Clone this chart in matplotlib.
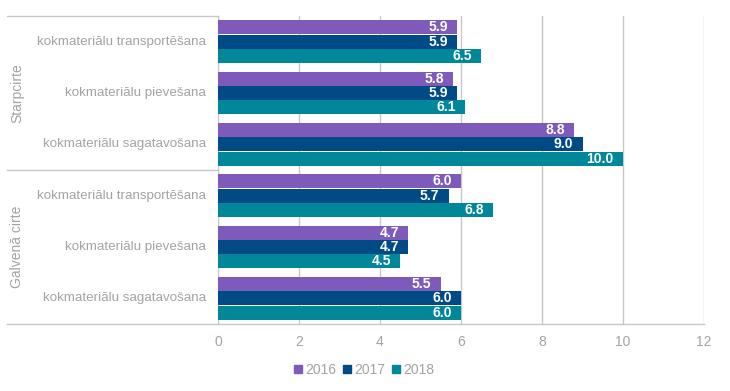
import matplotlib.pyplot as plt
import matplotlib.transforms as mtransforms
import numpy as np

plt.rcParams['font.family'] = ['Liberation Sans', 'DejaVu Sans']

groups = ["Starpcirte", "Galvenā cirte"]
categories = ["kokmateriālu transportēšana", "kokmateriālu pievešana", "kokmateriālu sagatavošana"]
years = ["2016", "2017", "2018"]
colors = ["#7E5BBB", "#004A86", "#00889A"]

# values per group, per category, per year
starpcirte = [[5.9, 5.9, 6.5], [5.8, 5.9, 6.1], [8.8, 9.0, 10.0]]
galvena = [[6.0, 5.7, 6.8], [4.7, 4.7, 4.5], [5.5, 6.0, 6.0]]

values = starpcirte + galvena
labels = categories + categories

fig = plt.figure(figsize=(7.3, 3.91), dpi=100)
ax = fig.add_axes([218 / 730, 1 - 324 / 391, 486 / 730, 308 / 391])

n = len(values)
bh = 0.272
gap = 0.008
grey = "#A3A3A3"
fs = 10
for i, row in enumerate(values):
    for j, v in enumerate(row):
        y = i + (j - 1) * (bh + gap)
        ax.barh(y, v, height=bh, color=colors[j], zorder=3)
        ax.text(v - 0.23, y, f"{v:.1f}", ha="right", va="center", color="white",
                fontsize=fs, fontweight="bold", zorder=4)

ax.set_ylim(n - 0.5, -0.5)
ax.set_xlim(0, 12)
ax.set_xticks(np.arange(0, 13, 2))
ax.tick_params(axis="x", length=0, colors=grey, labelsize=fs, pad=8)
ax.set_yticks([])
ax.grid(axis="x", color="#C8C8C8", linewidth=1, zorder=0)
for s in ["top", "right"]:
    ax.spines[s].set_visible(False)
ax.spines["left"].set_color("#C8C8C8")
ax.spines["bottom"].set_visible(False)

# category labels
trans = mtransforms.blended_transform_factory(fig.transFigure, ax.transData)
for i, lab in enumerate(labels):
    ax.text(206 / 730, i, lab, transform=trans, ha="right", va="center",
            color=grey, fontsize=9.6)

# group labels and separators
for k, g in enumerate(groups):
    ax.text(17 / 730, k * 3 + 1, g, transform=trans, ha="center", va="center",
            rotation=90, color=grey, fontsize=fs)
for yy in [-0.5, 2.5]:
    ax.plot([7 / 730, 218 / 730], [yy, yy], transform=trans, color="#C8C8C8",
            linewidth=1, clip_on=False)
ax.plot([7 / 730, 704 / 730], [5.5, 5.5], transform=trans, color="#C8C8C8",
        linewidth=1, clip_on=False)

handles = [plt.Rectangle((0, 0), 1, 1, color=c) for c in colors]
fig.legend(handles, years, loc="center", bbox_to_anchor=(364 / 730, 1 - 370 / 391),
           ncol=3, frameon=False, fontsize=fs, handlelength=0.55, handleheight=0.55,
           handletextpad=0.25, columnspacing=0.5, labelcolor=grey)

fig.savefig("out.png")
